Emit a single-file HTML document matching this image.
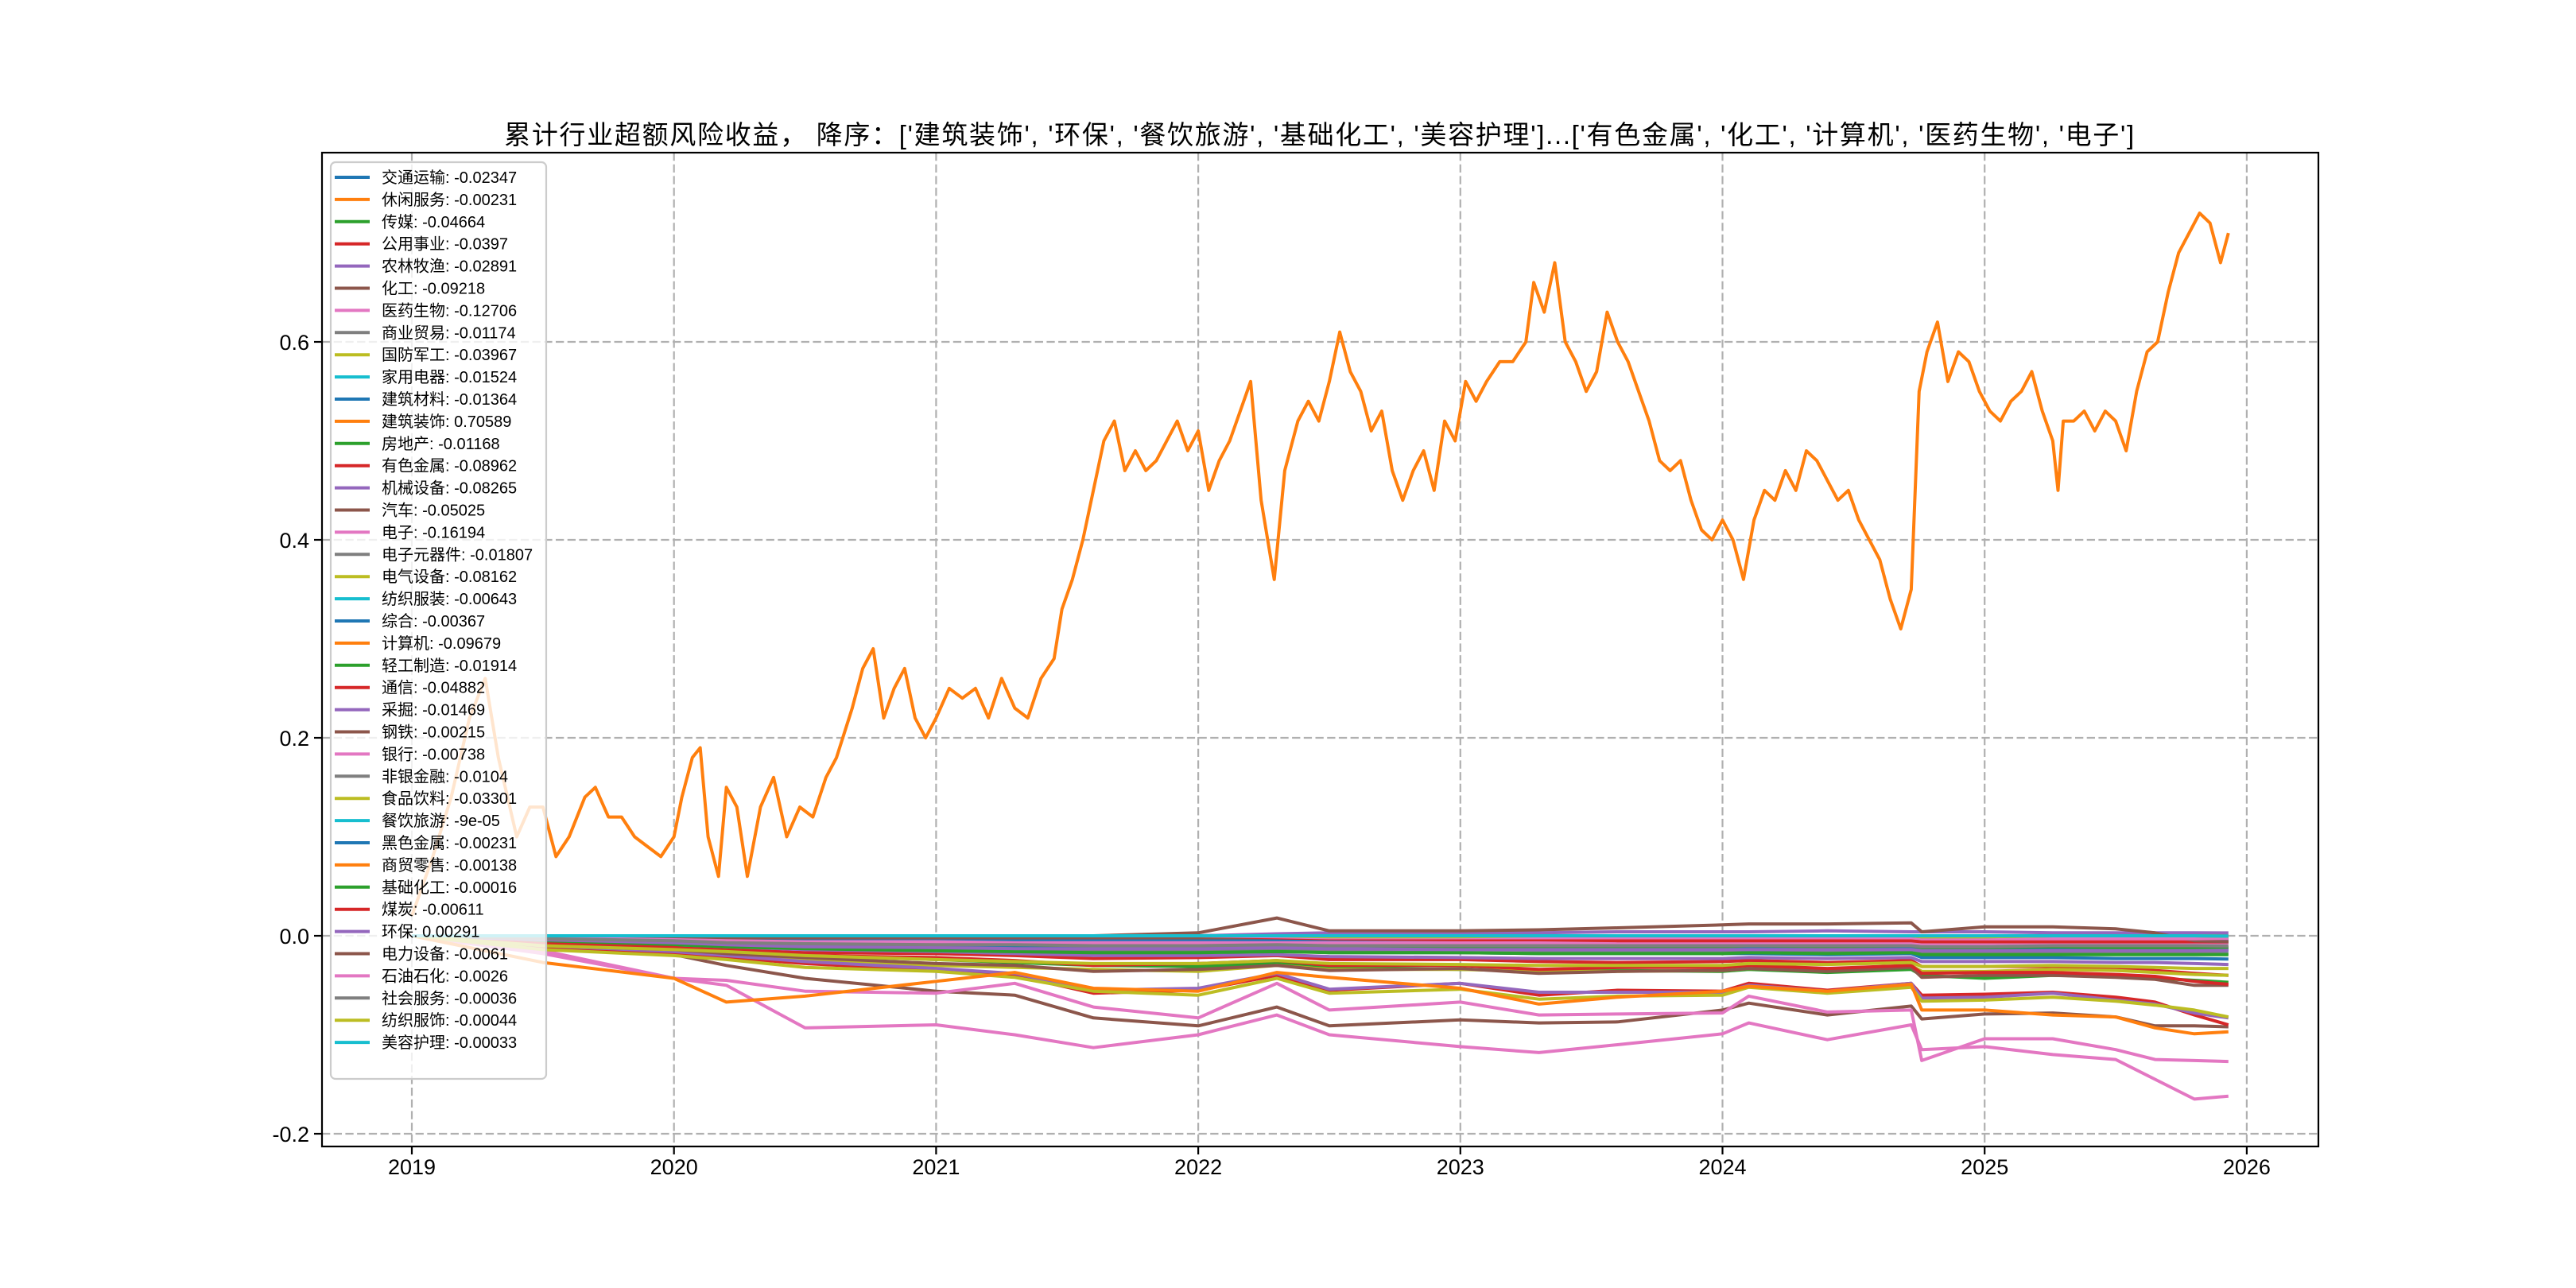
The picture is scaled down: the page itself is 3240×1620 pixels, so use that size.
<!DOCTYPE html>
<html><head><meta charset="utf-8"><style>
html,body{margin:0;padding:0;background:#fff;}
svg{display:block;}
text{font-family:"Liberation Sans","WenQuanYi Zen Hei","Noto Sans CJK SC",sans-serif;}
</style></head><body>
<svg id="chart" width="3240" height="1620" viewBox="0 0 3240 1620" xmlns="http://www.w3.org/2000/svg">
<rect x="0" y="0" width="3240" height="1620" fill="#fff"/>
<defs><clipPath id="clip"><rect x="405" y="192" width="2511" height="1250"/></clipPath></defs>
<text x="1660" y="181" text-anchor="middle" font-size="33" letter-spacing="1.7" fill="#000">累计行业超额风险收益，  降序：['建筑装饰', '环保', '餐饮旅游', '基础化工', '美容护理']...['有色金属', '化工', '计算机', '医药生物', '电子']</text>
<g id="grid"></g>
<g id="series" clip-path="url(#clip)"></g>
<rect x="405" y="192" width="2511" height="1250" fill="none" stroke="#000" stroke-width="2.2"/>
<g id="ticks"></g>
<g id="legend"></g>
</svg>
<script>
const xTicks = [2019,2020,2021,2022,2023,2024,2025,2026];
const yTicks = [0.6,0.4,0.2,0.0,-0.2];
const yTickLabels = ["0.6","0.4","0.2","0.0","-0.2"];
const names = ["交通运输","休闲服务","传媒","公用事业","农林牧渔","化工","医药生物","商业贸易","国防军工","家用电器","建筑材料","建筑装饰","房地产","有色金属","机械设备","汽车","电子","电子元器件","电气设备","纺织服装","综合","计算机","轻工制造","通信","采掘","钢铁","银行","非银金融","食品饮料","餐饮旅游","黑色金属","商贸零售","基础化工","煤炭","环保","电力设备","石油石化","社会服务","纺织服饰","美容护理"];
const finalValues = ["-0.02347","-0.00231","-0.04664","-0.0397","-0.02891","-0.09218","-0.12706","-0.01174","-0.03967","-0.01524","-0.01364","0.70589","-0.01168","-0.08962","-0.08265","-0.05025","-0.16194","-0.01807","-0.08162","-0.00643","-0.00367","-0.09679","-0.01914","-0.04882","-0.01469","-0.00215","-0.00738","-0.0104","-0.03301","-9e-05","-0.00231","-0.00138","-0.00016","-0.00611","0.00291","-0.0061","-0.0026","-0.00036","-0.00044","-0.00033"];
const T = [2019.0,2019.5,2020.0,2020.2,2020.5,2021.0,2021.3,2021.6,2022.0,2022.3,2022.5,2023.0,2023.3,2023.6,2024.0,2024.1,2024.4,2024.72,2024.76,2025.0,2025.26,2025.5,2025.65,2025.8,2025.93];
const s01 = [0,-0.004,-0.007,-0.009,-0.011,-0.013,-0.014,-0.016,-0.016,-0.015,-0.017,-0.017,-0.018,-0.018,-0.018,-0.018,-0.019,-0.018,-0.022,-0.022,-0.022,-0.023,-0.023,-0.023,-0.0235];
const s02 = [0,-0.002,-0.004,-0.005,-0.006,-0.006,-0.005,-0.006,-0.005,-0.004,-0.004,-0.004,-0.003,-0.003,-0.003,-0.003,-0.003,-0.002,-0.003,-0.003,-0.002,-0.002,-0.002,-0.002,-0.0023];
const s03 = [0,-0.006,-0.010,-0.014,-0.020,-0.024,-0.027,-0.030,-0.031,-0.028,-0.032,-0.034,-0.035,-0.035,-0.036,-0.034,-0.037,-0.034,-0.040,-0.043,-0.040,-0.041,-0.043,-0.045,-0.047];
const s04 = [0,-0.010,-0.012,-0.014,-0.017,-0.018,-0.020,-0.023,-0.022,-0.020,-0.024,-0.024,-0.026,-0.027,-0.026,-0.025,-0.027,-0.025,-0.031,-0.031,-0.031,-0.033,-0.035,-0.038,-0.040];
const s05 = [0,-0.006,-0.009,-0.011,-0.014,-0.016,-0.018,-0.020,-0.020,-0.019,-0.021,-0.022,-0.023,-0.023,-0.023,-0.022,-0.023,-0.022,-0.026,-0.026,-0.026,-0.027,-0.027,-0.028,-0.029];
const s06 = [0,-0.012,-0.019,-0.030,-0.043,-0.056,-0.060,-0.083,-0.091,-0.072,-0.091,-0.085,-0.088,-0.087,-0.075,-0.068,-0.080,-0.071,-0.084,-0.079,-0.078,-0.082,-0.091,-0.091,-0.092];
const s07 = [0,-0.015,-0.043,-0.045,-0.056,-0.058,-0.048,-0.072,-0.083,-0.048,-0.075,-0.067,-0.080,-0.079,-0.078,-0.061,-0.077,-0.075,-0.126,-0.104,-0.104,-0.115,-0.125,-0.126,-0.127];
const s08 = [0,-0.004,-0.006,-0.007,-0.008,-0.009,-0.009,-0.010,-0.010,-0.009,-0.010,-0.010,-0.010,-0.011,-0.011,-0.010,-0.011,-0.010,-0.012,-0.012,-0.011,-0.012,-0.012,-0.012,-0.0117];
const s09 = [0,-0.012,-0.016,-0.020,-0.024,-0.030,-0.032,-0.034,-0.036,-0.030,-0.034,-0.034,-0.036,-0.036,-0.035,-0.033,-0.034,-0.030,-0.036,-0.036,-0.034,-0.035,-0.037,-0.039,-0.040];
const s10 = [0,-0.005,-0.007,-0.008,-0.010,-0.011,-0.012,-0.013,-0.013,-0.012,-0.013,-0.013,-0.014,-0.014,-0.014,-0.013,-0.014,-0.013,-0.015,-0.015,-0.015,-0.015,-0.015,-0.015,-0.0152];
const s11 = [0,-0.004,-0.006,-0.008,-0.009,-0.010,-0.011,-0.012,-0.012,-0.011,-0.012,-0.012,-0.013,-0.013,-0.013,-0.012,-0.013,-0.012,-0.014,-0.014,-0.013,-0.014,-0.014,-0.014,-0.0136];
const s13 = [0,-0.003,-0.005,-0.006,-0.007,-0.008,-0.009,-0.010,-0.010,-0.009,-0.010,-0.011,-0.011,-0.011,-0.011,-0.010,-0.011,-0.010,-0.012,-0.012,-0.011,-0.012,-0.012,-0.012,-0.0117];
const s14 = [0,-0.012,-0.018,-0.022,-0.028,-0.035,-0.040,-0.058,-0.055,-0.040,-0.055,-0.048,-0.060,-0.055,-0.056,-0.048,-0.055,-0.048,-0.060,-0.059,-0.057,-0.062,-0.067,-0.080,-0.090];
const s15 = [0,-0.010,-0.016,-0.020,-0.026,-0.033,-0.038,-0.055,-0.053,-0.038,-0.054,-0.048,-0.057,-0.057,-0.057,-0.050,-0.056,-0.048,-0.063,-0.062,-0.058,-0.065,-0.069,-0.078,-0.083];
const s16 = [0,-0.010,-0.014,-0.018,-0.022,-0.028,-0.030,-0.036,-0.034,-0.030,-0.035,-0.033,-0.038,-0.036,-0.035,-0.033,-0.036,-0.032,-0.042,-0.040,-0.040,-0.042,-0.044,-0.050,-0.050];
const s17 = [0,-0.018,-0.043,-0.050,-0.093,-0.090,-0.100,-0.113,-0.100,-0.080,-0.100,-0.112,-0.118,-0.110,-0.099,-0.088,-0.105,-0.090,-0.115,-0.112,-0.120,-0.125,-0.145,-0.165,-0.162];
const s18 = [0,-0.006,-0.009,-0.011,-0.013,-0.014,-0.015,-0.016,-0.016,-0.015,-0.016,-0.017,-0.017,-0.017,-0.017,-0.016,-0.017,-0.016,-0.018,-0.018,-0.018,-0.018,-0.018,-0.018,-0.0181];
const s19 = [0,-0.014,-0.020,-0.024,-0.032,-0.036,-0.042,-0.056,-0.060,-0.043,-0.058,-0.054,-0.064,-0.061,-0.060,-0.052,-0.058,-0.052,-0.066,-0.065,-0.062,-0.066,-0.070,-0.075,-0.082];
const s20 = [0,-0.003,-0.004,-0.005,-0.006,-0.006,-0.006,-0.007,-0.007,-0.006,-0.006,-0.006,-0.006,-0.006,-0.006,-0.006,-0.006,-0.006,-0.007,-0.007,-0.006,-0.006,-0.006,-0.006,-0.0064];
const s21 = [0,-0.002,-0.003,-0.004,-0.004,-0.004,-0.004,-0.004,-0.004,-0.004,-0.004,-0.004,-0.004,-0.004,-0.004,-0.004,-0.004,-0.004,-0.004,-0.004,-0.004,-0.004,-0.004,-0.004,-0.0037];
const s22 = [0,-0.027,-0.043,-0.067,-0.061,-0.046,-0.037,-0.053,-0.056,-0.037,-0.042,-0.053,-0.069,-0.062,-0.056,-0.051,-0.056,-0.049,-0.075,-0.075,-0.080,-0.082,-0.093,-0.099,-0.097];
const s23 = [0,-0.006,-0.009,-0.011,-0.013,-0.015,-0.016,-0.017,-0.017,-0.016,-0.017,-0.017,-0.018,-0.018,-0.018,-0.017,-0.018,-0.017,-0.019,-0.019,-0.019,-0.019,-0.019,-0.019,-0.0191];
const s24 = [0,-0.008,-0.012,-0.016,-0.020,-0.022,-0.025,-0.030,-0.028,-0.025,-0.030,-0.030,-0.034,-0.032,-0.032,-0.030,-0.033,-0.030,-0.038,-0.037,-0.037,-0.039,-0.041,-0.046,-0.049];
const s25 = [0,-0.004,-0.007,-0.009,-0.011,-0.012,-0.013,-0.013,-0.013,-0.012,-0.013,-0.014,-0.014,-0.014,-0.014,-0.014,-0.014,-0.014,-0.015,-0.015,-0.015,-0.015,-0.015,-0.015,-0.0147];
const s26 = [0,-0.001,-0.002,-0.002,-0.002,-0.002,-0.002,-0.002,-0.002,-0.002,-0.002,-0.002,-0.002,-0.002,-0.002,-0.002,-0.002,-0.002,-0.002,-0.002,-0.002,-0.002,-0.002,-0.002,-0.0022];
const s27 = [0,-0.002,-0.004,-0.005,-0.006,-0.006,-0.007,-0.007,-0.007,-0.007,-0.007,-0.007,-0.007,-0.007,-0.007,-0.007,-0.007,-0.007,-0.008,-0.008,-0.007,-0.007,-0.007,-0.007,-0.0074];
const s28 = [0,-0.003,-0.005,-0.007,-0.008,-0.009,-0.009,-0.010,-0.010,-0.009,-0.010,-0.010,-0.010,-0.010,-0.010,-0.010,-0.010,-0.010,-0.011,-0.011,-0.010,-0.010,-0.010,-0.010,-0.0104];
const s29 = [0,-0.010,-0.014,-0.016,-0.020,-0.024,-0.026,-0.028,-0.028,-0.025,-0.028,-0.029,-0.030,-0.030,-0.030,-0.028,-0.029,-0.027,-0.031,-0.031,-0.030,-0.031,-0.032,-0.033,-0.033];
const s30 = [0,0,0,0,0,0,0,0,0,0,0,0,0,0,0,0,0,0,0,0,0,0,0,0,-0.0001];
const s31 = [0,0,0,0,0,0,0,0,0,-0.001,-0.001,-0.002,-0.002,-0.002,-0.002,-0.002,-0.002,-0.002,-0.002,-0.002,-0.003,-0.002,-0.002,-0.002,-0.0023];
const s32 = [0,0,0,0,0,0,0,0,0,-0.001,-0.001,-0.001,-0.001,-0.001,-0.001,-0.001,-0.001,-0.001,-0.002,-0.002,-0.001,-0.001,-0.001,-0.001,-0.0014];
const s33 = [0,0,0,0,0,0,0,0,0,0.001,0,0,0,0,0,0,0,0,-0.001,-0.001,0,0,0,0,-0.0002];
const s34 = [0,0,0,0,0,0,0,0,0,-0.002,-0.003,-0.004,-0.004,-0.005,-0.005,-0.005,-0.005,-0.005,-0.006,-0.006,-0.006,-0.006,-0.006,-0.006,-0.0061];
const s35 = [0,0,0,0,0,0,0,0,0,0.002,0.003,0.003,0.003,0.004,0.004,0.004,0.005,0.004,0.004,0.004,0.003,0.003,0.003,0.003,0.0029];
const s36 = [0,0,0,0,0,0,0,0,0.003,0.018,0.005,0.005,0.006,0.008,0.011,0.012,0.012,0.013,0.004,0.009,0.009,0.007,0.003,-0.005,-0.006];
const s37 = [0,0,0,0,0,0,0,0,0,-0.001,-0.002,-0.002,-0.002,-0.002,-0.002,-0.002,-0.002,-0.002,-0.003,-0.003,-0.003,-0.003,-0.003,-0.003,-0.0026];
const s38 = [0,0,0,0,0,0,0,0,0,0,0,0,0,0,0,0,0,0,-0.001,-0.001,0,0,0,0,-0.0004];
const s39 = [0,0,0,0,0,0,0,0,0,0,-0.001,-0.001,0,0,0,0,0,0,-0.001,-0.001,0,0,0,0,-0.0004];
const s40 = [0,0,0,0,0,0,0,0,0,0,0,0,0,0,0,0,0,0,0,0,0,0,0,0,-0.0003];
const mainT = [2019.0,2019.08,2019.15,2019.22,2019.28,2019.33,2019.40,2019.45,2019.50,2019.55,2019.60,2019.66,2019.70,2019.75,2019.80,2019.85,2019.90,2019.95,2020.00,2020.03,2020.07,2020.10,2020.13,2020.17,2020.20,2020.24,2020.28,2020.33,2020.38,2020.43,2020.48,2020.53,2020.58,2020.62,2020.68,2020.72,2020.76,2020.80,2020.84,2020.88,2020.92,2020.96,2021.00,2021.05,2021.10,2021.15,2021.20,2021.25,2021.30,2021.35,2021.40,2021.45,2021.48,2021.52,2021.56,2021.60,2021.64,2021.68,2021.72,2021.76,2021.80,2021.84,2021.88,2021.92,2021.96,2022.00,2022.04,2022.08,2022.12,2022.16,2022.20,2022.24,2022.29,2022.33,2022.38,2022.42,2022.46,2022.50,2022.54,2022.58,2022.62,2022.66,2022.70,2022.74,2022.78,2022.82,2022.86,2022.90,2022.94,2022.98,2023.02,2023.06,2023.10,2023.15,2023.20,2023.25,2023.28,2023.32,2023.36,2023.40,2023.44,2023.48,2023.52,2023.56,2023.60,2023.64,2023.68,2023.72,2023.76,2023.80,2023.84,2023.88,2023.92,2023.96,2024.00,2024.04,2024.08,2024.12,2024.16,2024.20,2024.24,2024.28,2024.32,2024.36,2024.40,2024.44,2024.48,2024.52,2024.56,2024.60,2024.64,2024.68,2024.72,2024.75,2024.78,2024.82,2024.86,2024.90,2024.94,2024.98,2025.02,2025.06,2025.10,2025.14,2025.18,2025.22,2025.26,2025.28,2025.30,2025.34,2025.38,2025.42,2025.46,2025.50,2025.54,2025.58,2025.62,2025.66,2025.70,2025.74,2025.78,2025.82,2025.86,2025.90,2025.93];
const mainV = [0.02,0.08,0.14,0.22,0.26,0.18,0.10,0.13,0.13,0.08,0.10,0.14,0.15,0.12,0.12,0.10,0.09,0.08,0.10,0.14,0.18,0.19,0.10,0.06,0.15,0.13,0.06,0.13,0.16,0.10,0.13,0.12,0.16,0.18,0.23,0.27,0.29,0.22,0.25,0.27,0.22,0.20,0.22,0.25,0.24,0.25,0.22,0.26,0.23,0.22,0.26,0.28,0.33,0.36,0.40,0.45,0.50,0.52,0.47,0.49,0.47,0.48,0.50,0.52,0.49,0.51,0.45,0.48,0.50,0.53,0.56,0.44,0.36,0.47,0.52,0.54,0.52,0.56,0.61,0.57,0.55,0.51,0.53,0.47,0.44,0.47,0.49,0.45,0.52,0.50,0.56,0.54,0.56,0.58,0.58,0.60,0.66,0.63,0.68,0.60,0.58,0.55,0.57,0.63,0.60,0.58,0.55,0.52,0.48,0.47,0.48,0.44,0.41,0.40,0.42,0.40,0.36,0.42,0.45,0.44,0.47,0.45,0.49,0.48,0.46,0.44,0.45,0.42,0.40,0.38,0.34,0.31,0.35,0.55,0.59,0.62,0.56,0.59,0.58,0.55,0.53,0.52,0.54,0.55,0.57,0.53,0.50,0.45,0.52,0.52,0.53,0.51,0.53,0.52,0.49,0.55,0.59,0.60,0.65,0.69,0.71,0.73,0.72,0.68,0.71];

const colors = ["#1f77b4","#ff7f0e","#2ca02c","#d62728","#9467bd","#8c564b","#e377c2","#7f7f7f","#bcbd22","#17becf"];
const seriesData = [s01,s02,s03,s04,s05,s06,s07,s08,s09,s10,s11,null,s13,s14,s15,s16,s17,s18,s19,s20,s21,s22,s23,s24,s25,s26,s27,s28,s29,s30,s31,s32,s33,s34,s35,s36,s37,s38,s39,s40];

const X0 = 518, XPY = 329.7, Y0 = 1177, YPU = 1245;
function xs(yr){ return X0 + (yr - 2019) * XPY; }
function ys(v){ return Y0 - v * YPU; }
const NS = "http://www.w3.org/2000/svg";
function mk(tag, attrs, parent){ const e = document.createElementNS(NS, tag); for (const k in attrs) e.setAttribute(k, attrs[k]); parent.appendChild(e); return e; }

const grid = document.getElementById('grid');
const ticks = document.getElementById('ticks');
xTicks.forEach(function(t){
  const X = xs(t);
  const gl = mk('line', {x1:X, x2:X, y1:192, y2:1442, stroke:'#b0b0b0', 'stroke-width':2.2, 'stroke-dasharray':'10.3,4.4'}, grid);
  
  
  const tk = mk('line', {x1:X, x2:X, y1:1442, y2:1452, stroke:'#000', 'stroke-width':2.2}, ticks);
  
  
  const tx = mk('text', {x:X, y:1477, 'text-anchor':'middle', 'font-size':27}, ticks);
  tx.textContent = String(t);
  
  
});
yTicks.forEach(function(v, i){
  const Y = ys(v);
  const gl = mk('line', {x1:405, x2:2916, y1:Y, y2:Y, stroke:'#b0b0b0', 'stroke-width':2.2, 'stroke-dasharray':'10.3,4.4'}, grid);
  
  
  const tk = mk('line', {x1:395, x2:405, y1:Y, y2:Y, stroke:'#000', 'stroke-width':2.2}, ticks);
  
  
  const tx = mk('text', {x:389, y:Y + 10, 'text-anchor':'end', 'font-size':27}, ticks);
  tx.textContent = yTickLabels[i];
  
  
});

const sg = document.getElementById('series');
names.forEach(function(n, i){
  let tArr = T, vArr = seriesData[i];
  if (i === 11) { tArr = mainT; vArr = mainV; }
  const pts = [];
  for (let k = 0; k < vArr.length; k++) pts.push(xs(tArr[k]).toFixed(1) + ',' + ys(vArr[k]).toFixed(1));
  const pl = mk('polyline', {points: pts.join(' '), fill:'none', stroke: colors[i % 10], 'stroke-width':4, 'stroke-linejoin':'round'}, sg);
  
  
});

const lg = document.getElementById('legend');
const box = mk('rect', {x:416, y:204, width:271, height:1153, rx:6, fill:'#fff', 'fill-opacity':0.8, stroke:'#cccccc', 'stroke-width':2.2}, lg);


names.forEach(function(n, i){
  const Y = 223 + i * 27.9;
  const ln = mk('line', {x1:421, x2:465, y1:Y, y2:Y, stroke: colors[i % 10], 'stroke-width':4}, lg);
  
  
  const tx = mk('text', {x:480, y:Y + 7, 'font-size':20}, lg);
  tx.textContent = n + ': ' + finalValues[i];
  
  
});
</script>
</body></html>
